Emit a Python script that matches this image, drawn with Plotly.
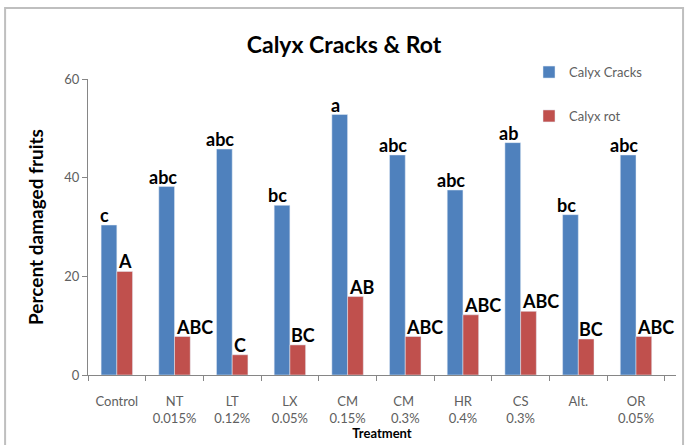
import plotly.graph_objects as go

categories = ["Control", "NT<br>0.015%", "LT<br>0.12%", "LX<br>0.05%", "CM<br>0.15%",
              "CM <br>0.3%", "HR<br>0.4%", "CS<br>0.3%", "Alt.", "OR<br>0.05%"]
calyx_cracks = [30.4, 38.2, 45.8, 34.4, 52.8, 44.6, 37.5, 47.1, 32.5, 44.6]
calyx_rot = [21.0, 7.8, 4.1, 6.1, 15.9, 7.8, 12.2, 12.9, 7.3, 7.8]
cracks_letters = ["c", "abc", "abc", "bc", "a", "abc", "abc", "ab", "bc", "abc"]
rot_letters = ["A", "ABC", "C", "BC", "AB", "ABC", "ABC", "ABC", "BC", "ABC"]

FONT = "Lato, Liberation Sans, sans-serif"
BLUE = "#4F81BD"
RED = "#C0504D"
GRAY = "#606060"

fig = go.Figure()
fig.add_trace(go.Bar(x=categories, y=calyx_cracks, name="Calyx Cracks",
                     marker_color=BLUE, legendgroup="a"))
fig.add_trace(go.Bar(x=categories, y=calyx_rot, name="Calyx rot",
                     marker_color=RED, legendgroup="b"))

lab_font = dict(family=FONT, size=18, color="black", weight="bold")
annotations = []
for c, v, t in zip(categories, calyx_cracks, cracks_letters):
    annotations.append(dict(x=c, y=v, text=t, showarrow=False, xanchor="center",
                            yanchor="bottom", xshift=-12, yshift=-3, font=lab_font))
for c, v, t in zip(categories, calyx_rot, rot_letters):
    if len(t) == 1:
        annotations.append(dict(x=c, y=v, text=t, showarrow=False, xanchor="center",
                                yanchor="bottom", xshift=8, yshift=-3, font=lab_font))
    else:
        annotations.append(dict(x=c, y=v, text=t, showarrow=False, xanchor="left",
                                yanchor="bottom", xshift=-1, yshift=-3, font=lab_font))

fig.update_layout(
    width=688, height=445,
    margin=dict(l=88, r=12, t=79, b=70),
    paper_bgcolor="white", plot_bgcolor="white",
    barmode="group", bargap=0.455, bargroupgap=0,
    font=dict(family=FONT, size=13, color=GRAY),
    title=dict(text="Calyx Cracks & Rot", x=0.5, xref="container", xanchor="center",
               y=1 - 45 / 445, yanchor="middle", yref="container",
               font=dict(family=FONT, size=23, color="black", weight="bold")),
    legend=dict(x=0.75, y=1.074, xanchor="left", yanchor="top", xref="paper", yref="paper",
                tracegroupgap=24, traceorder="grouped", bgcolor="rgba(0,0,0,0)",
                font=dict(family=FONT, size=13, color=GRAY),
                itemwidth=30),
    annotations=annotations,
    shapes=[dict(type="rect", xref="paper", yref="paper",
                 x0=-0.141, x1=1.012, y0=-0.4, y1=1.24,
                 line=dict(color="#BFBFBF", width=2), layer="below")],
)
fig.update_xaxes(showline=True, linecolor="#868686", linewidth=1,
                 ticks="outside", ticklen=5, tickcolor="#868686",
                 tickson="boundaries", showgrid=False, tickangle=0,
                 tickfont=dict(family=FONT, size=13, color=GRAY),
                 ticklabelstandoff=14, automargin=False,
                 title=dict(text="Treatment", standoff=4,
                            font=dict(family=FONT, size=13, color="black", weight="bold")))
fig.update_yaxes(range=[0, 60], tickvals=[0, 20, 40, 60], showline=True,
                 linecolor="#868686", linewidth=1, ticks="outside", ticklen=5,
                 tickcolor="#868686", showgrid=False, zeroline=False, automargin=False,
                 tickfont=dict(family=FONT, size=13, color=GRAY),
                 title=dict(text="Percent damaged fruits", standoff=15,
                            font=dict(family=FONT, size=19, color="black", weight="bold")))

fig.write_html("out.html", config={"displayModeBar": False},
               post_script="document.body.style.margin='0';")
